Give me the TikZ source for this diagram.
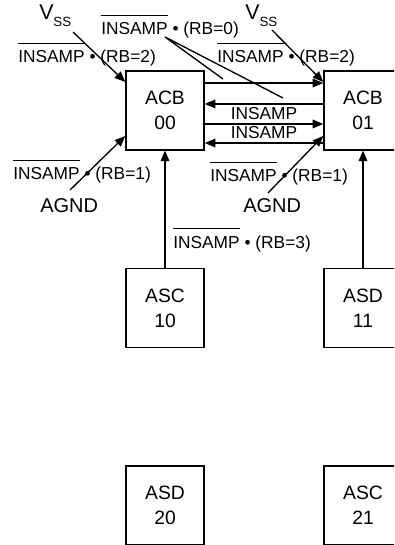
\documentclass[tikz,border=0pt]{standalone}
\usepackage{fontspec}
\setmainfont{Liberation Sans}
\usetikzlibrary{arrows.meta}
\newcommand{\nbar}[1]{\leavevmode\vbox{\hrule height 1pt\kern 5pt\hbox{#1}}}
\newcommand{\LblFont}{\fontsize{13}{15}\selectfont}
\newcommand{\BoxFont}{\fontsize{14.5}{18.75}\selectfont}
\newcommand{\Vss}{{\fontsize{16}{17}\selectfont V}\raisebox{-5.25pt}{\fontsize{10}{10}\selectfont SS}}

\begin{document}
\begin{tikzpicture}[x=0.75pt,y=-0.75pt,
  blk/.style={draw,line width=1.1pt,minimum width=58.5pt,minimum height=59pt,align=center,font=\BoxFont,inner sep=0pt},
  sig/.style={-{Triangle[length=8pt,width=6.5pt]},line width=1pt},
  lbl/.style={anchor=base west,inner sep=0pt,font=\LblFont},
  pwr/.style={anchor=base west,inner sep=0pt,font=\fontsize{15}{17}\selectfont}]
  \useasboundingbox (0,0) rectangle (394,545);
  \clip (0,0) rectangle (394,545);

  % blocks
  \node[blk] (acb00) at (165,110.5) {ACB\\00};
  \node[blk] (acb01) at (363,110.5) {ACB\\01};
  \node[blk] (asc10) at (165,308) {ASC\\10};
  \node[blk] (asd11) at (363,308) {ASD\\11};
  \node[blk] (asd20) at (165,505.5) {ASD\\20};
  \node[blk] (asc21) at (363,505.5) {ASC\\21};

  % supply and select labels
  \node[pwr] (vssa) at (39,20) {\Vss};
  \node[pwr] (vssb) at (245,20) {\Vss};
  \node[pwr] (agnda) at (40,213) {AGND};
  \node[pwr] (agndb) at (243,213) {AGND};
  \node[lbl] (rb0) at (101,35) {\nbar{INSAMP} • (RB=0)};
  \node[lbl] (rb2a) at (18,63) {\nbar{INSAMP} • (RB=2)};
  \node[lbl] (rb2b) at (217,63) {\nbar{INSAMP} • (RB=2)};
  \node[lbl] (rb1a) at (13,180) {\nbar{INSAMP} • (RB=1)};
  \node[lbl] (rb1b) at (210,182) {\nbar{INSAMP} • (RB=1)};
  \node[lbl] (rb3) at (173,248) {\nbar{INSAMP} • (RB=3)};

  \coordinate (va) at (73,32);
  \coordinate (vb) at (272,30);
  \coordinate (ga) at (70,190);
  \coordinate (gb) at (268,193);
  \coordinate (t0) at (165,37);
  \coordinate (ta) at (223,79);
  \coordinate (tb) at (283,98);

  % inputs
  \draw[sig] (va) -- ([yshift=21.4pt]acb00.west);
  \draw[sig] (ga) -- ([yshift=-19.1pt]acb00.west);
  \draw[sig] (vb) -- ([yshift=21.4pt]acb01.west);
  \draw[sig] (gb) -- ([yshift=-19.1pt]acb01.west);

  % links between the two ACB blocks
  \draw[sig] ([yshift=20.6pt]acb00.east) -- ([yshift=20.6pt]acb01.west);
  \draw[sig] ([yshift=4.9pt]acb01.west) -- ([yshift=4.9pt]acb00.east);
  \draw[sig] ([yshift=-10.1pt]acb00.east) -- node[above,inner sep=2.5pt,font=\LblFont] (ins1) {INSAMP} ([yshift=-10.1pt]acb01.west);
  \draw[sig] ([yshift=-24.4pt]acb01.west) -- node[above,inner sep=2.5pt,font=\LblFont] (ins2) {INSAMP} ([yshift=-24.4pt]acb00.east);
  \draw[line width=1pt] (t0) -- (ta) (t0) -- (tb);

  % from the lower blocks
  \draw[sig] (asc10) -- (acb00);
  \draw[sig] (asd11) -- (acb01);
\end{tikzpicture}
\end{document}
